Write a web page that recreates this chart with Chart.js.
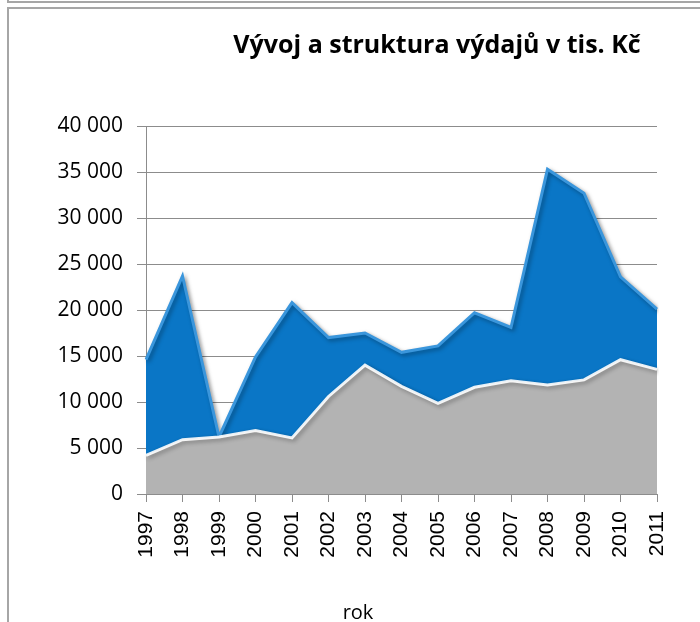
<!DOCTYPE html>
<html>
<head>
<meta charset="utf-8">
<script src="https://cdn.jsdelivr.net/npm/chart.js@4.4.1/dist/chart.umd.min.js"></script>
<style>
  html, body { margin: 0; padding: 0; background: #fff; }
  body { width: 700px; height: 622px; position: relative; overflow: hidden; }
  #topbox { position: absolute; left: 7px; top: -2px; width: 700px; height: 3px; border-left: 2px solid #a6a6a6; border-bottom: 2px solid #a6a6a6; }
  #frame { position: absolute; left: 7px; top: 7px; width: 700px; height: 630px; border-left: 2px solid #a6a6a6; border-top: 2px solid #a6a6a6; }
  #wrap { position: absolute; left: 9px; top: 9px; width: 691px; height: 613px; }
</style>
</head>
<body>
<div id="topbox"></div>
<div id="frame"></div>
<div id="wrap"><canvas id="vydajeChart" width="691" height="613"></canvas></div>
<script>
// roky a hodnoty (tis. Kč)
const years = ['1997', '1998', '1999', '2000', '2001', '2002', '2003', '2004', '2005', '2006', '2007', '2008', '2009', '2010', '2011'];
const grayValues = [4200, 5900, 6200, 6900, 6100, 10600, 14000, 11700, 9850, 11600, 12300, 11850, 12400, 14600, 13550];
const blueValues = [10400, 17800, 0, 8000, 14700, 6400, 3500, 3700, 6250, 8100, 5800, 23450, 20300, 9000, 6550];
const yTicks = [0, 5000, 10000, 15000, 20000, 25000, 30000, 35000, 40000];

const chartTitle = 'Vývoj a struktura výdajů v tis. Kč';
const xTitle = 'rok';

const fmt = v => String(v).replace(/\B(?=(\d{3})+(?!\d))/g, ' ');

// titulek a popisek osy x kreslíme sami (v originále nejsou centrované na graf)
const textPlugin = {
  id: 'texty',
  afterDraw(chart) {
    const ctx = chart.ctx;
    ctx.save();
    ctx.fillStyle = '#000';
    ctx.textAlign = 'center';
    ctx.textBaseline = 'alphabetic';
    ctx.font = 'bold 25px "Open Sans", Lato, sans-serif';
    ctx.fillText(chartTitle, 428, 44);
    ctx.font = '20px "Open Sans", Lato, sans-serif';
    ctx.fillText(xTitle, 349, 610);
    ctx.restore();
  }
};

// stín pod plochami
const shadowPlugin = {
  id: 'stin',
  beforeDatasetsDraw(chart) {
    const ctx = chart.ctx;
    ctx.save();
    ctx.shadowColor = 'rgba(0,0,0,0.35)';
    ctx.shadowOffsetX = 2;
    ctx.shadowOffsetY = 2;
    ctx.shadowBlur = 4;
  },
  afterDatasetsDraw(chart) {
    chart.ctx.restore();
  }
};

const ctx = document.getElementById('vydajeChart');
new Chart(ctx, {
  type: 'line',
  data: {
    labels: years,
    datasets: [
      {
        label: 'A',
        data: grayValues,
        backgroundColor: '#b3b3b3',
        borderColor: 'rgba(255,255,255,0.9)',
        borderWidth: 3,
        fill: 'origin',
        pointRadius: 0,
        tension: 0
      },
      {
        label: 'B',
        data: blueValues,
        backgroundColor: '#0a76c6',
        borderColor: '#3a96dc',
        borderWidth: 3,
        fill: '-1',
        pointRadius: 0,
        tension: 0
      }
    ]
  },
  options: {
    responsive: false,
    animation: false,
    layout: { padding: { left: 0, right: 43, top: 117, bottom: 0 } },
    plugins: {
      legend: { display: false },
      title: { display: false },
      tooltip: { enabled: false }
    },
    scales: {
      x: {
        offset: false,
        grid: { drawOnChartArea: false, color: '#8c8c8c', tickLength: 8 },
        border: { color: '#8c8c8c' },
        ticks: {
          color: '#000',
          minRotation: 90,
          maxRotation: 90,
          autoSkip: false,
          padding: 9,
          font: { family: '"Liberation Sans", Arial, sans-serif', size: 21 }
        },
        afterFit(scale) { scale.height = 128; }
      },
      y: {
        stacked: true,
        min: 0,
        max: 40000,
        grid: { color: '#8c8c8c', tickLength: 9 },
        border: { color: '#8c8c8c' },
        afterBuildTicks(scale) { scale.ticks = yTicks.map(v => ({ value: v })); },
        ticks: {
          color: '#000',
          padding: 14,
          font: { family: '"Open Sans", Lato, sans-serif', size: 21 },
          callback: v => fmt(v)
        },
        afterFit(scale) { scale.width = 137; }
      }
    }
  },
  plugins: [shadowPlugin, textPlugin]
});
</script>
</body>
</html>
